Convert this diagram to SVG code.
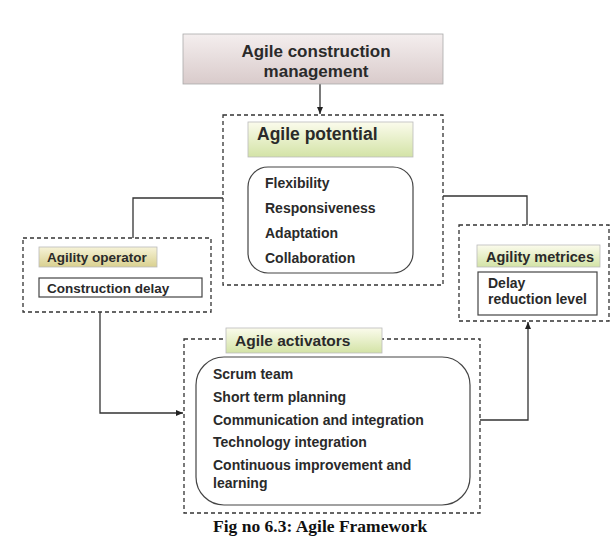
<svg xmlns="http://www.w3.org/2000/svg" width="611" height="556" viewBox="0 0 611 556">
<defs>
<linearGradient id="gTop" x1="0" y1="0" x2="0" y2="1"><stop offset="0" stop-color="#f4eeee"/><stop offset="1" stop-color="#d9cbcb"/></linearGradient>
<linearGradient id="gGreen" x1="0" y1="0" x2="0" y2="1"><stop offset="0" stop-color="#fbfbec"/><stop offset="1" stop-color="#d3e3a6"/></linearGradient>
<linearGradient id="gGold" x1="0" y1="0" x2="0" y2="1"><stop offset="0" stop-color="#f7f3d8"/><stop offset="1" stop-color="#d9d08f"/></linearGradient>
<marker id="arr" markerWidth="8" markerHeight="8" refX="7" refY="4" orient="auto" markerUnits="userSpaceOnUse"><path d="M0,1 L7,4 L0,7 Z" fill="#222"/></marker>
<style>
.dash{fill:none;stroke:#333;stroke-width:1.3;stroke-dasharray:4,3}
.box{fill:#fff;stroke:#444;stroke-width:1.2}
.hdr{stroke:#bbb;stroke-width:0.8}
.ln{fill:none;stroke:#333;stroke-width:1.3}
.t{font-family:"Liberation Sans",Arial,sans-serif;font-weight:bold;fill:#2a2a2a}
.cap{font-family:"Liberation Serif","Times New Roman",serif;font-weight:bold;fill:#111;font-size:17.5px}
</style>
</defs>
<rect width="611" height="556" fill="#fff"/>
<g id="connectors">
<line class="ln" x1="320" y1="84" x2="320" y2="114" marker-end="url(#arr)"/>
<polyline class="ln" points="223,198 133,198 133,238"/>
<polyline class="ln" points="443,196 527,196 527,225"/>
<polyline class="ln" points="100,312 100,413 183,413" marker-end="url(#arr)"/>
<polyline class="ln" points="480,420 528,420 528,322" marker-end="url(#arr)"/>
</g>
<g id="agile-construction-management">
<rect x="183" y="34" width="260" height="50" fill="url(#gTop)" stroke="#aaa" stroke-width="0.8"/>
<text class="t" x="316" y="57" font-size="17" text-anchor="middle">Agile construction</text>
<text class="t" x="316" y="77" font-size="17" text-anchor="middle">management</text>
</g>
<g id="agile-potential">
<rect class="dash" x="223" y="115" width="220" height="170"/>
<rect class="hdr" x="248" y="122" width="165" height="35" fill="url(#gGreen)"/>
<text class="t" x="257" y="140" font-size="17.5">Agile potential</text>
<rect class="box" x="248" y="167" width="165" height="106" rx="20"/>
<text class="t" x="265" y="188" font-size="14">Flexibility</text>
<text class="t" x="265" y="213" font-size="14">Responsiveness</text>
<text class="t" x="265" y="238" font-size="14">Adaptation</text>
<text class="t" x="265" y="263" font-size="14">Collaboration</text>
</g>
<g id="agility-operator">
<rect class="dash" x="23" y="238" width="188" height="74"/>
<rect class="hdr" x="39" y="247" width="118" height="20" fill="url(#gGold)"/>
<text class="t" x="47" y="262" font-size="13.5">Agility operator</text>
<rect class="box" x="39" y="278" width="163" height="19"/>
<text class="t" x="47" y="293" font-size="13.5">Construction delay</text>
</g>
<g id="agility-metrices">
<rect class="dash" x="459" y="225" width="150" height="96"/>
<rect class="hdr" x="477" y="245" width="123" height="22" fill="url(#gGreen)"/>
<text class="t" x="486" y="262" font-size="14.5">Agility metrices</text>
<rect class="box" x="478" y="272" width="119" height="43"/>
<text class="t" x="488" y="288" font-size="14">Delay</text>
<text class="t" x="488" y="304" font-size="14">reduction level</text>
</g>
<g id="agile-activators">
<rect class="dash" x="184" y="339" width="296" height="174"/>
<rect class="hdr" x="226" y="328" width="156" height="25" fill="url(#gGreen)"/>
<text class="t" x="235" y="346" font-size="15.5">Agile activators</text>
<rect class="box" x="196" y="357" width="274" height="148" rx="28"/>
<text class="t" x="213" y="379" font-size="14">Scrum team</text>
<text class="t" x="213" y="402" font-size="14">Short term planning</text>
<text class="t" x="213" y="425" font-size="14">Communication and integration</text>
<text class="t" x="213" y="447" font-size="14">Technology integration</text>
<text class="t" x="213" y="470" font-size="14">Continuous improvement and</text>
<text class="t" x="213" y="488" font-size="14">learning</text>
</g>
<text class="cap" x="213" y="532">Fig no 6.3: Agile Framework</text>
</svg>
